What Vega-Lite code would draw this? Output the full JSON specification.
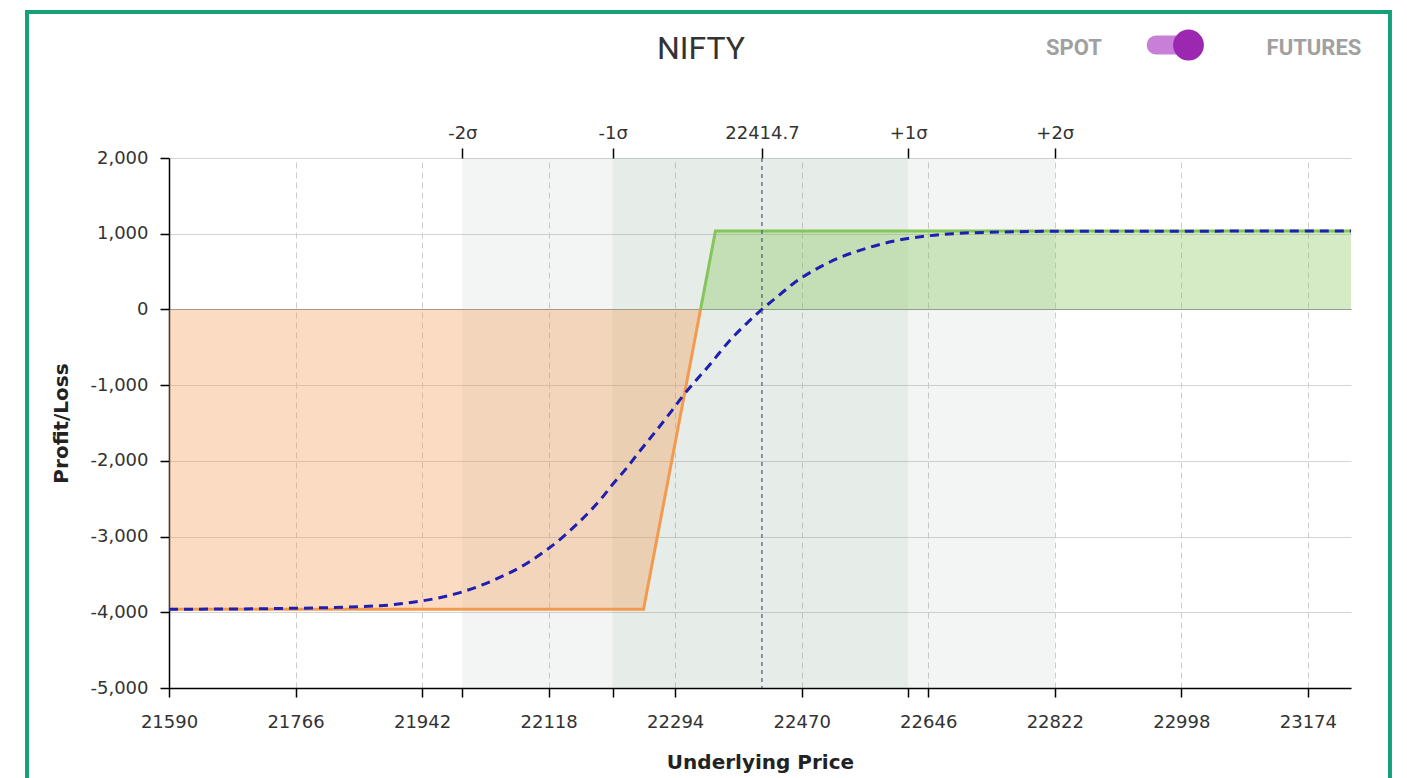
{
  "$schema": "https://vega.github.io/schema/vega-lite/v6.json",
  "width": 1182,
  "height": 530,
  "autosize": {"type": "none"},
  "padding": {"left": 169, "top": 158, "right": 56, "bottom": 90},
  "background": "white",
  "title": {"text": "NIFTY", "anchor": "middle", "dx": -59, "offset": -56, "font": "Roboto", "fontSize": 32, "fontWeight": "normal", "color": "#333333"},
  "config": {
    "view": {"stroke": null},
    "axis": {"labelFont": "DejaVu Sans", "titleFont": "DejaVu Sans", "labelColor": "#333333", "titleColor": "#222222"}
  },
  "datasets": {
    "bands": [
      {"lo": 21998, "hi": 22822, "band": "2 sigma"},
      {"lo": 22207, "hi": 22618, "band": "1 sigma"}
    ],
    "payoff": [
      {"price": 21590, "pl": -3960, "side": "loss"},
      {"price": 22250, "pl": -3960, "side": "loss"},
      {"price": 22329.3, "pl": 0, "side": "loss"},
      {"price": 22329.3, "pl": 0, "side": "profit"},
      {"price": 22350, "pl": 1035, "side": "profit"},
      {"price": 23234, "pl": 1035, "side": "profit"}
    ],
    "t0": [
      {"price": 21590, "pl": -3960},
      {"price": 21744, "pl": -3950},
      {"price": 21883, "pl": -3913},
      {"price": 21929, "pl": -3868},
      {"price": 21991, "pl": -3750},
      {"price": 22041, "pl": -3578},
      {"price": 22088, "pl": -3352},
      {"price": 22116, "pl": -3170},
      {"price": 22138, "pl": -3005},
      {"price": 22158, "pl": -2830},
      {"price": 22176, "pl": -2660},
      {"price": 22192, "pl": -2490},
      {"price": 22208, "pl": -2300},
      {"price": 22227, "pl": -2090},
      {"price": 22242, "pl": -1905},
      {"price": 22256, "pl": -1740},
      {"price": 22290, "pl": -1330},
      {"price": 22305, "pl": -1140},
      {"price": 22343, "pl": -720},
      {"price": 22370, "pl": -410},
      {"price": 22394, "pl": -180},
      {"price": 22414.7, "pl": 0},
      {"price": 22440, "pl": 200},
      {"price": 22458, "pl": 340},
      {"price": 22486, "pl": 510},
      {"price": 22523, "pl": 685},
      {"price": 22561, "pl": 810},
      {"price": 22597, "pl": 900},
      {"price": 22644, "pl": 970},
      {"price": 22680, "pl": 1000},
      {"price": 22746, "pl": 1022},
      {"price": 22822, "pl": 1032},
      {"price": 23234, "pl": 1035}
    ],
    "spot": [{"price": 22414.7}],
    "labels": [
      {"price": 22848.7, "pl": 3453, "label": "SPOT"},
      {"price": 23182.5, "pl": 3453, "label": "FUTURES"}
    ],
    "toggle": [{"price": 22963, "price2": 23003, "pl": 3492}],
    "knob": [{"price": 23008, "pl": 3492}],
    "frame": [{"price": 21392.5, "price2": 23288.2, "pl": 3928, "pl2": -6500}]
  },
  "resolve": {"axis": {"x": "independent", "y": "independent"}},
  "layer": [
    {
      "data": {"name": "bands"},
      "mark": {"type": "rect", "color": "#7f9f85", "opacity": 0.1},
      "encoding": {
        "x": {
          "field": "lo", "type": "quantitative",
          "scale": {"domain": [21590, 23234], "nice": false, "zero": false},
          "axis": {
            "orient": "bottom",
            "title": "Underlying Price",
            "values": [21590, 21766, 21942, 21998, 22118, 22207, 22294, 22470, 22618, 22646, 22822, 22998, 23174],
            "labelExpr": "indexof([21998, 22207, 22618], datum.value) >= 0 ? '' : format(datum.value, 'd')",
            "labelFontSize": 18,
            "labelPadding": 16,
            "labelFlush": false,
            "labelOverlap": false,
            "domainColor": "#000000",
            "domainWidth": 1.5,
            "tickColor": "#000000",
            "tickSize": 9,
            "tickWidth": 1.5,
            "titleFontSize": 20,
            "titleFontWeight": "bold",
            "titlePadding": 21,
            "grid": true,
            "gridColor": "#cccccc",
            "gridDash": [6, 4],
            "gridOpacity": {"condition": {"test": "indexof([21998, 22207, 22618], datum.value) >= 0", "value": 0}, "value": 1}
          }
        },
        "x2": {"field": "hi"}
      }
    },
    {
      "data": {"name": "payoff"},
      "mark": {"type": "area", "opacity": 0.35},
      "encoding": {
        "x": {"field": "price", "type": "quantitative", "scale": {"domain": [21590, 23234], "nice": false, "zero": false}, "axis": null},
        "y": {
          "field": "pl", "type": "quantitative", "stack": null,
          "scale": {"domain": [-5000, 2000], "nice": false, "zero": false},
          "axis": {
            "title": "Profit/Loss",
            "values": [-5000, -4000, -3000, -2000, -1000, 0, 1000, 2000],
            "labelExpr": "(datum.value < 0 ? '-' : '') + format(abs(datum.value), ',')",
            "labelFontSize": 18,
            "labelPadding": 12,
            "labelFlush": false,
            "domainColor": "#000000",
            "domainWidth": 1.5,
            "tickColor": "#000000",
            "tickSize": 9,
            "tickWidth": 1.5,
            "titleFontSize": 20,
            "titleFontWeight": "bold",
            "titlePadding": 18,
            "grid": true,
            "gridColor": {"condition": {"test": "datum.value === 0", "value": "#999999"}, "value": "#d4d4d4"}
          }
        },
        "y2": {"datum": 0},
        "color": {"field": "side", "type": "nominal", "scale": {"domain": ["loss", "profit"], "range": ["#f39a4f", "#84c659"]}, "legend": null}
      }
    },
    {
      "data": {"name": "payoff"},
      "mark": {"type": "line", "strokeWidth": 3},
      "encoding": {
        "x": {"field": "price", "type": "quantitative", "scale": {"domain": [21590, 23234], "nice": false, "zero": false}, "axis": null},
        "y": {"field": "pl", "type": "quantitative", "scale": {"domain": [-5000, 2000], "nice": false, "zero": false}, "axis": null},
        "color": {"field": "side", "type": "nominal", "scale": {"domain": ["loss", "profit"], "range": ["#ec7a1e", "#56a81a"]}, "legend": null}
      }
    },
    {
      "data": {"name": "t0"},
      "mark": {"type": "line", "color": "#1f1fb0", "strokeWidth": 3, "strokeDash": [9, 6], "interpolate": "monotone"},
      "encoding": {
        "x": {"field": "price", "type": "quantitative", "scale": {"domain": [21590, 23234], "nice": false, "zero": false}, "axis": null},
        "y": {"field": "pl", "type": "quantitative", "scale": {"domain": [-5000, 2000], "nice": false, "zero": false}, "axis": null}
      }
    },
    {
      "data": {"name": "spot"},
      "mark": {"type": "rule", "color": "#5c5c80", "strokeWidth": 1.3, "strokeDash": [4, 4]},
      "encoding": {
        "x": {
          "field": "price", "type": "quantitative",
          "scale": {"domain": [21590, 23234], "nice": false, "zero": false},
          "axis": {
            "orient": "top",
            "title": null,
            "values": [21998, 22207, 22414.7, 22618, 22822],
            "labelExpr": "datum.value == 21998 ? '-2σ' : datum.value == 22207 ? '-1σ' : datum.value == 22618 ? '+1σ' : datum.value == 22822 ? '+2σ' : '22414.7'",
            "labelFontSize": 18,
            "labelPadding": 6,
            "labelFlush": false,
            "labelOverlap": false,
            "domain": false,
            "tickColor": "#000000",
            "tickSize": 10,
            "tickWidth": 1.5,
            "grid": false
          }
        }
      }
    },
    {
      "data": {"name": "labels"},
      "mark": {"type": "text", "font": "Roboto", "fontSize": 22, "fontWeight": "bold", "color": "#a0a0a0", "align": "center", "baseline": "middle"},
      "encoding": {
        "x": {"field": "price", "type": "quantitative", "scale": {"domain": [21590, 23234], "nice": false, "zero": false}, "axis": null},
        "y": {"field": "pl", "type": "quantitative", "scale": {"domain": [-5000, 2000], "nice": false, "zero": false}, "axis": null},
        "text": {"field": "label"}
      }
    },
    {
      "data": {"name": "toggle"},
      "mark": {"type": "rule", "color": "#c77fd8", "strokeWidth": 19, "strokeCap": "round"},
      "encoding": {
        "x": {"field": "price", "type": "quantitative", "scale": {"domain": [21590, 23234], "nice": false, "zero": false}, "axis": null},
        "x2": {"field": "price2"},
        "y": {"field": "pl", "type": "quantitative", "scale": {"domain": [-5000, 2000], "nice": false, "zero": false}, "axis": null}
      }
    },
    {
      "data": {"name": "knob"},
      "mark": {"type": "point", "filled": true, "shape": "circle", "size": 950, "color": "#9c27b0", "opacity": 1},
      "encoding": {
        "x": {"field": "price", "type": "quantitative", "scale": {"domain": [21590, 23234], "nice": false, "zero": false}, "axis": null},
        "y": {"field": "pl", "type": "quantitative", "scale": {"domain": [-5000, 2000], "nice": false, "zero": false}, "axis": null}
      }
    },
    {
      "data": {"name": "frame"},
      "mark": {"type": "rect", "fillOpacity": 0, "stroke": "#16a07a", "strokeWidth": 4},
      "encoding": {
        "x": {"field": "price", "type": "quantitative", "scale": {"domain": [21590, 23234], "nice": false, "zero": false}, "axis": null},
        "x2": {"field": "price2"},
        "y": {"field": "pl", "type": "quantitative", "scale": {"domain": [-5000, 2000], "nice": false, "zero": false}, "axis": null},
        "y2": {"field": "pl2"}
      }
    }
  ]
}
